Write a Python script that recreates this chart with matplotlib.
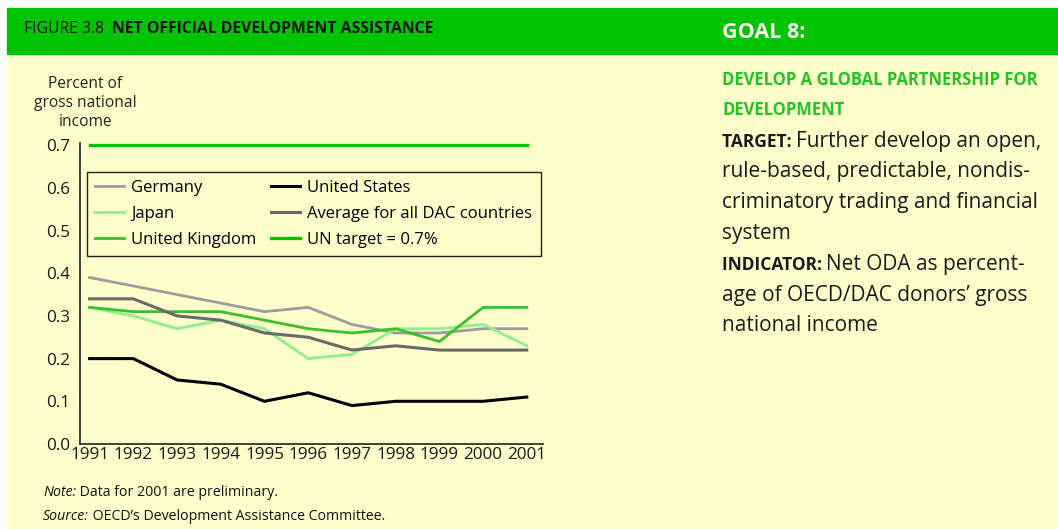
import matplotlib.pyplot as plt
from matplotlib.patches import Rectangle

plt.rcParams['font.family'] = ['Open Sans', 'DejaVu Sans']

# Net ODA as percent of gross national income
years = [1991, 1992, 1993, 1994, 1995, 1996, 1997, 1998, 1999, 2000, 2001]
germany = [0.39, 0.37, 0.35, 0.33, 0.31, 0.32, 0.28, 0.26, 0.26, 0.27, 0.27]
japan = [0.32, 0.30, 0.27, 0.29, 0.27, 0.20, 0.21, 0.27, 0.27, 0.28, 0.23]
uk = [0.32, 0.31, 0.31, 0.31, 0.29, 0.27, 0.26, 0.27, 0.24, 0.32, 0.32]
usa = [0.20, 0.20, 0.15, 0.14, 0.10, 0.12, 0.09, 0.10, 0.10, 0.10, 0.11]
dac_avg = [0.34, 0.34, 0.30, 0.29, 0.26, 0.25, 0.22, 0.23, 0.22, 0.22, 0.22]
un_target = [0.7] * len(years)
yticks = [0.0, 0.1, 0.2, 0.3, 0.4, 0.5, 0.6, 0.7]

HEADER = '#00c400'
BG = '#ffffcc'
TXT_GREEN = '#22c422'

fig = plt.figure(figsize=(10.58, 5.29), dpi=100)
fig.patch.set_facecolor('white')

W, H = 1058, 529
def px(x, y):
    return x / W, 1 - y / H

# page background and header bar
fig.patches.append(Rectangle(px(7, 529), (W - 7) / W, (529 - 54) / H,
                             transform=fig.transFigure, color=BG, zorder=-10))
fig.patches.append(Rectangle(px(7, 54), (W - 7) / W, 46 / H,
                             transform=fig.transFigure, color=HEADER, zorder=-10))

ax = fig.add_axes([80 / W, 1 - 444 / H, 463 / W, 301 / H])
ax.set_zorder(1)
ax.set_facecolor(BG)

ax.plot(years, germany, color='#9c9c9c', lw=2.0, label='Germany')
ax.plot(years, japan, color='#8cf08c', lw=2.0, label='Japan')
ax.plot(years, uk, color='#3cc02a', lw=2.0, label='United Kingdom')
ax.plot(years, usa, color='black', lw=2.2, label='United States')
ax.plot(years, dac_avg, color='#6a6a6a', lw=2.2, label='Average for all DAC countries')
ax.plot(years, un_target, color='#00c400', lw=2.4, label='UN target = 0.7%')

ax.set_xlim(1990.78, 2001.37)
ax.set_ylim(0, 0.705)
ax.set_xticks(years)
ax.set_yticks(yticks)
ax.set_yticklabels([f'{v:.1f}' for v in yticks])
ax.tick_params(length=0, labelsize=12.3, colors='#1a1a1a')
ax.tick_params(axis='y', pad=7)
ax.tick_params(axis='x', pad=2)
for s in ['top', 'right']:
    ax.spines[s].set_visible(False)
for s in ['left', 'bottom']:
    ax.spines[s].set_color('#333333')
    ax.spines[s].set_linewidth(1.3)

leg = ax.legend(ncol=2, loc='upper left', bbox_to_anchor=(0.015, 0.905),
                fontsize=12, frameon=True, fancybox=False, edgecolor='#222222',
                facecolor=BG, framealpha=1, borderaxespad=0, handlelength=1.7,
                columnspacing=0.9, labelspacing=0.6, handletextpad=0.45,
                borderpad=0.5)
leg.get_frame().set_linewidth(1.0)

fig.text(*px(85, 103), 'Percent of\ngross national\nincome', ha='center', va='center',
         fontsize=11.2, color='#222222', linespacing=1.25)

renderer = fig.canvas.get_renderer()


def mixed(x, y, parts):
    # draw text pieces one after another on the same baseline
    xp = x
    for s, kw in parts:
        t = fig.text(xp / W, 1 - y / H, s, va='baseline', **kw)
        xp = t.get_window_extent(renderer).x1


mixed(24, 33, [('FIGURE 3.8  ', dict(fontsize=11.3, color='#111111')),
               ('NET OFFICIAL DEVELOPMENT ASSISTANCE',
                dict(fontsize=11.3, color='#111111', weight='bold'))])
fig.text(722 / W, 1 - 38 / H, 'GOAL 8:', fontsize=15.5, weight='bold', color='white',
         va='baseline')

fig.text(722 / W, 1 - 85 / H, 'DEVELOP A GLOBAL PARTNERSHIP FOR', fontsize=12,
         weight='bold', color=TXT_GREEN, va='baseline')
fig.text(722 / W, 1 - 115 / H, 'DEVELOPMENT', fontsize=12,
         weight='bold', color=TXT_GREEN, va='baseline')

body = dict(fontsize=15, color='#1a1a1a')
lab = dict(fontsize=12.5, weight='bold', color='#1a1a1a')
mixed(722, 147, [('TARGET: ', lab), ('Further develop an open,', body)])
fig.text(722 / W, 1 - 177 / H, 'rule-based, predictable, nondis-', va='baseline', **body)
fig.text(722 / W, 1 - 208 / H, 'criminatory trading and financial', va='baseline', **body)
fig.text(722 / W, 1 - 239 / H, 'system', va='baseline', **body)
mixed(722, 270, [('INDICATOR: ', lab), ('Net ODA as percent-', body)])
fig.text(722 / W, 1 - 301 / H, 'age of OECD/DAC donors\u2019 gross', va='baseline', **body)
fig.text(722 / W, 1 - 331 / H, 'national income', va='baseline', **body)

note = dict(fontsize=10.2, color='#111111')
mixed(43, 496, [('Note:', dict(note, style='italic')),
                (' Data for 2001 are preliminary.', note)])
mixed(43, 520, [('Source:', dict(note, style='italic')),
                (' OECD\u2019s Development Assistance Committee.', note)])

fig.savefig('out.png', dpi=100, facecolor=fig.get_facecolor())
